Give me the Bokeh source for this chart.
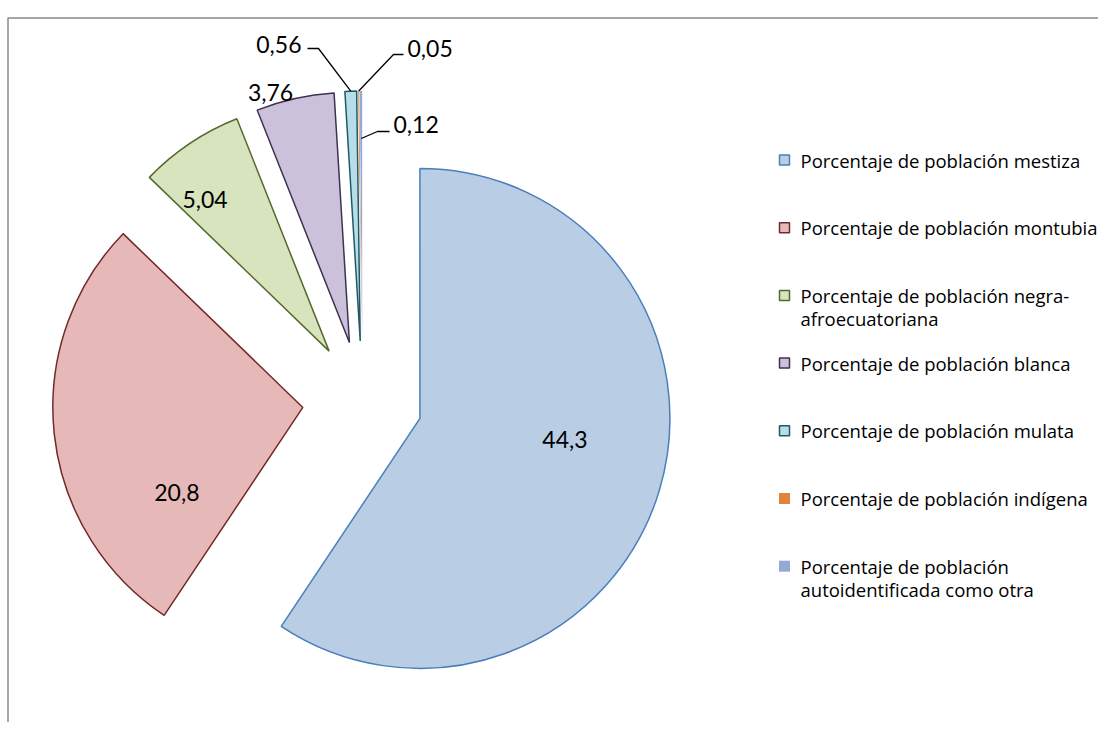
import math
from bokeh.plotting import figure
from bokeh.models import Range1d
from bokeh.embed import file_html
from bokeh.resources import INLINE
from bokeh.core.properties import value

# ---------------- data ----------------
categories = [
    "Porcentaje de población mestiza",
    "Porcentaje de población montubia",
    "Porcentaje de población negra-afroecuatoriana",
    "Porcentaje de población blanca",
    "Porcentaje de población mulata",
    "Porcentaje de población indígena",
    "Porcentaje de población autoidentificada como otra",
]
legend_lines = [
    ["Porcentaje de población mestiza"],
    ["Porcentaje de población montubia"],
    ["Porcentaje de población negra-", "afroecuatoriana"],
    ["Porcentaje de población blanca"],
    ["Porcentaje de población mulata"],
    ["Porcentaje de población indígena"],
    ["Porcentaje de población", "autoidentificada como otra"],
]
values = [44.3, 20.8, 5.04, 3.76, 0.56, 0.05, 0.12]
value_labels = ["44,3", "20,8", "5,04", "3,76", "0,56", "0,05", "0,12"]

# ---------------- style / layout ----------------
fills = ["#B9CDE5", "#E6B9B8", "#D7E4BD", "#CCC1DA", "#B7DEE8", "#E0843D", "#95A9D4"]
edges = ["#4A7EBB", "#722A28", "#56692C", "#3F3151", "#215968", None, None]

W, H = 1098, 722
CX, CY = 362, 400.5           # pie centre (px in picture)
R = 250
EXPLODE = 60
FONT = value("Lato")
LEGEND_FONT = value("Open Sans")
LABEL_SIZE = "23px"
LEGEND_SIZE = "18.5px"

def X(sx):
    return sx - CX

def Y(sy):
    return CY - sy

p = figure(width=W, height=H, output_backend="svg", toolbar_location=None,
           x_range=Range1d(X(0), X(W)), y_range=Range1d(Y(H), Y(0)),
           min_border=0)
p.axis.visible = False
p.grid.visible = False
p.outline_line_color = None
p.background_fill_color = "white"
p.border_fill_color = "white"

# chart-area border (left and top edges visible in reference)
p.line([X(7.5), X(7.5), X(W)], [Y(H), Y(17.5), Y(17.5)],
       line_color="#8A8A8A", line_width=1.5)

total = sum(values)
theta = 0.0
slices = []
for i, v in enumerate(values):
    t1 = theta
    t2 = theta + 360.0 * v / total
    tm = (t1 + t2) / 2
    cx = EXPLODE * math.sin(math.radians(tm))
    cy = EXPLODE * math.cos(math.radians(tm))
    slices.append((t1, t2, tm, cx, cy))
    theta = t2

for i, (t1, t2, tm, cx, cy) in enumerate(slices):
    kw = dict(fill_color=fills[i])
    if edges[i]:
        kw.update(line_color=edges[i], line_width=1.5)
    else:
        kw.update(line_color=None)
    p.wedge(x=[cx], y=[cy], radius=R, radius_units="data",
            start_angle=math.radians(90 - t1), end_angle=math.radians(90 - t2),
            direction="clock", **kw)

# labels of the large slices: (radius fraction, angle shift in degrees)
label_polar = {0: (0.586, -8.6), 1: (0.608, -27.9), 2: (0.785, -5.4), 3: (1.05, -4.9)}
for i, (rf, da) in label_polar.items():
    t1, t2, tm, cx, cy = slices[i]
    a = math.radians(tm + da)
    p.text(x=[cx + rf * R * math.sin(a)], y=[cy + rf * R * math.cos(a)],
           text=[value_labels[i]], text_font=FONT, text_font_size=LABEL_SIZE,
           text_align="center", text_baseline="middle", text_color="black")

# labels of the thin slices with leader lines
# (attach radius fraction, elbow pt, end pt, label anchor, align)
leaders = {
    4: (1.0, (318, 48), (307, 48), (301, 44), "right"),
    5: (1.0, (393, 54), (403, 54), (407, 48), "left"),
    6: (0.81, (377, 131), (389, 131), (393, 124), "left"),
}
for i, (rf, el, en, la, al) in leaders.items():
    t1, t2, tm, cx, cy = slices[i]
    a = math.radians(tm)
    ax_, ay_ = cx + rf * R * math.sin(a), cy + rf * R * math.cos(a)
    p.line([ax_, X(el[0]), X(en[0])], [ay_, Y(el[1]), Y(en[1])],
           line_color="black", line_width=1.3)
    p.text(x=[X(la[0])], y=[Y(la[1])], text=[value_labels[i]], text_font=FONT,
           text_font_size=LABEL_SIZE, text_align=al, text_baseline="middle",
           text_color="black")

# legend
LEG_X, LEG_Y0, LEG_DY, LINE_DY = 784, 159.5, 67.7, 23
for i, lines in enumerate(legend_lines):
    sy = LEG_Y0 + i * LEG_DY
    if edges[i]:
        p.scatter(x=[X(LEG_X)], y=[Y(sy)], marker="square", size=10,
                  fill_color=fills[i], line_color=edges[i], line_width=1.5)
    else:
        p.scatter(x=[X(LEG_X)], y=[Y(sy)], marker="square", size=11,
                  fill_color=fills[i], line_color=None)
    for k, ln in enumerate(lines):
        p.text(x=[X(800)], y=[Y(sy + k * LINE_DY)], text=[ln], text_font=LEGEND_FONT,
               text_font_size=LEGEND_SIZE, text_align="left", text_baseline="middle",
               text_color="black")

open("out.html", "w").write(file_html(p, INLINE))
